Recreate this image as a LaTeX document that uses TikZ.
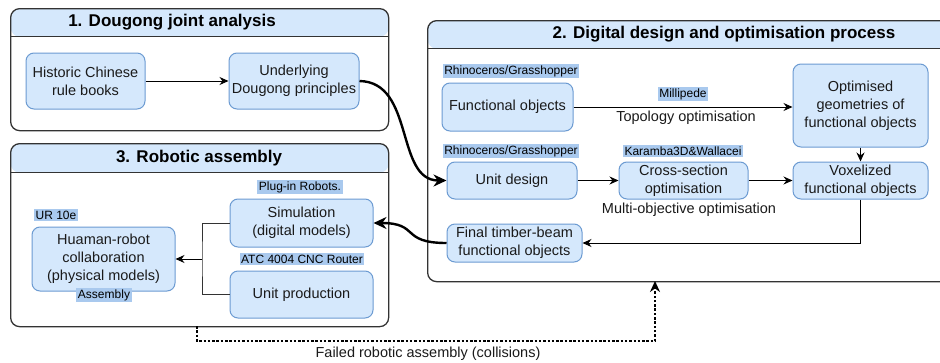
\documentclass[tikz,border=0pt]{standalone}
\usepackage{fontspec}
\setmainfont{Liberation Sans}
\usetikzlibrary{arrows.meta}
\definecolor{boxfill}{HTML}{D5E8FC}
\definecolor{boxline}{HTML}{6C9BD2}
\definecolor{lblbg}{HTML}{A9C9EE}
\definecolor{contline}{HTML}{333333}
\definecolor{txt}{HTML}{1A1A1A}
\newcommand\bodyfont{\fontsize{14.5}{18}\selectfont}
\newcommand\lblfont{\fontsize{12}{14}\selectfont}
\newcommand\ttlfont{\fontsize{17}{20}\selectfont\bfseries}
\tikzset{
  box/.style={draw=boxline, fill=boxfill, rounded corners=8pt, line width=1pt, align=center, font=\bodyfont, text=txt, inner sep=2pt},
  lbl/.style={fill=lblbg, inner sep=1.5pt, font=\lblfont, text=black},
  plain/.style={font=\bodyfont, text=txt, inner sep=1pt},
  ttl/.style={font=\ttlfont, text=black, inner sep=0pt},
  cont/.style={draw=contline, fill=white, rounded corners=9pt, line width=1.3pt},
  hdr/.style={path picture={
      \fill[boxfill] (path picture bounding box.north west) rectangle ([yshift=-#1]path picture bounding box.east |- path picture bounding box.north);
      \draw[contline, line width=1.3pt] ([yshift=-#1]path picture bounding box.north west) -- ([yshift=-#1]path picture bounding box.north east);}},
  arr/.style={-{Stealth[length=9pt,width=8pt]}, line width=1pt, draw=black},
  link/.style={line width=1pt, draw=black!80},
  bigarr/.style={-{Stealth[length=13pt,width=12pt]}, line width=2.4pt, draw=black},
  dotarr/.style={-{Stealth[length=11pt,width=10pt]}, line width=2.5pt, dash pattern=on 2.5pt off 1.8pt, draw=black}
}
\begin{document}
\begin{tikzpicture}[x=1pt, y=-1pt]
\path[use as bounding box] (0,0) rectangle (940,362);
\clip (0,0) rectangle (940,362);

% containers
\node[cont, hdr=28pt, minimum width=378pt, minimum height=122pt, anchor=north west] (c1) at (10,8) {};
\node[cont, hdr=28pt, minimum width=540pt, minimum height=261pt, anchor=north west] (c2) at (427,20) {};
\node[cont, hdr=29pt, minimum width=378pt, minimum height=183pt, anchor=north west] (c3) at (10,143) {};

\node[ttl] (t1) at (172,22) {1. Dougong joint analysis};
\node[ttl] (t2) at (724,34) {2. Digital design and optimisation process};
\node[ttl] (t3) at (199,158) {3. Robotic assembly};

% container 1
\node[box, minimum width=119pt, minimum height=56pt] (hist) at (85.5,81) {Historic Chinese\\rule books};
\node[box, minimum width=130pt, minimum height=56pt] (under) at (294,81) {Underlying\\Dougong principles};
\draw[arr] (hist) -- (under);

% container 2
\node[lbl] (rg1) at (511,71) {Rhinoceros/Grasshopper};
\node[box, minimum width=131pt, minimum height=48pt] (func) at (507.5,107) {Functional objects};
\node[lbl] (mill) at (683,94) {Millipede};
\node[plain] (topo) at (686,118) {Topology optimisation};
\node[box, minimum width=135pt, minimum height=83pt] (opt) at (860.5,105.5) {Optimised\\geometries of\\functional objects};

\node[lbl] (rg2) at (511,151) {Rhinoceros/Grasshopper};
\node[lbl] (kw) at (683,151) {Karamba3D\&Wallacei};
\node[box, minimum width=130pt, minimum height=37pt] (unit) at (512,180.5) {Unit design};
\node[box, minimum width=129pt, minimum height=37pt] (cross) at (683.5,180.5) {Cross-section\\optimisation};
\node[plain] (multi) at (689,210) {Multi-objective optimisation};
\node[box, minimum width=135pt, minimum height=37pt] (vox) at (860.5,180.5) {Voxelized\\functional objects};
\node[box, minimum width=135pt, minimum height=38pt] (final) at (514.5,243) {Final timber-beam\\functional objects};

\draw[arr] (func) -- (func -| opt.west);
\draw[arr] (opt) -- (vox);
\draw[arr] (unit) -- (cross);
\draw[arr] (cross) -- (vox);
\draw[arr] (vox.south) |- (final.east);

% container 3
\node[lbl] (plug) at (300,187) {Plug-in Robots.};
\node[box, minimum width=143pt, minimum height=48pt] (sim) at (301.5,223) {Simulation\\(digital models)};
\node[lbl] (atc) at (302,259) {ATC 4004 CNC Router};
\node[box, minimum width=143pt, minimum height=47pt] (prod) at (301.5,294.5) {Unit production};
\node[lbl] (ur) at (56,215) {UR 10e};
\node[box, minimum width=143pt, minimum height=64pt] (hr) at (103.5,259) {Huaman-robot\\collaboration\\(physical models)};
\node[lbl] (asm) at (104,295) {Assembly};

\coordinate (j) at (202,259);
\draw[link] (sim.west) -| (j) |- (prod.west);
\draw[arr] (j) -- (hr.east);

% cross-container connectors
\draw[bigarr] (under.east) .. controls (415,82) and (395,180.5) .. (unit.west);
\draw[bigarr] (final.west) .. controls (400,243) and (420,223) .. (sim.east);

\coordinate (fs) at (197,326);
\coordinate (fe) at (655,281);
\draw[dotarr] (fs) -- (197,341) -| (fe);
\node[plain] (fail) at (428,354) {Failed robotic assembly (collisions)};
\end{tikzpicture}
\end{document}
